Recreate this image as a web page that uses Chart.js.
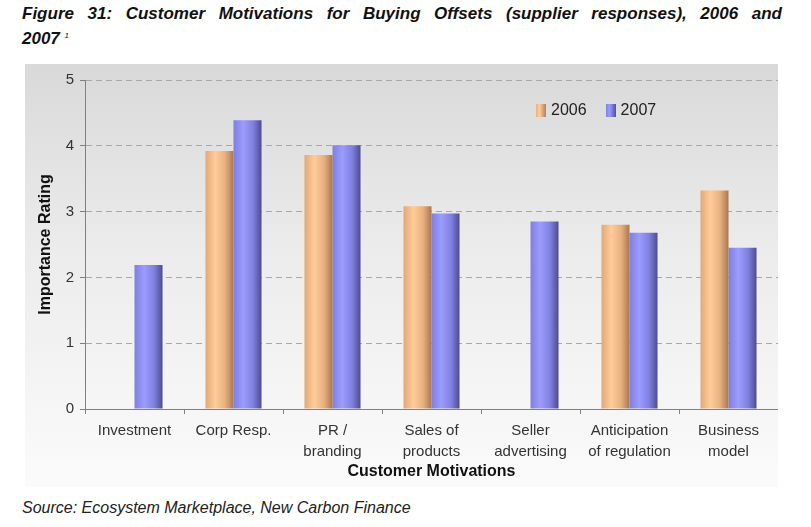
<!DOCTYPE html>
<html>
<head>
<meta charset="utf-8">
<script src="https://cdn.jsdelivr.net/npm/chart.js@4"></script>
<style>
  body { margin: 0; background: #fff; width: 811px; height: 527px; position: relative; overflow: hidden;
         font-family: "Liberation Sans", Arial, sans-serif; }
  #title { position: absolute; left: 22px; top: 3px; width: 760px; font-weight: bold; font-style: italic;
           font-size: 17px; line-height: 22px; color: #111; }
  #title .l1 { text-align: justify; text-align-last: justify; white-space: nowrap; }
  #title sup { font-size: 8px; font-weight: normal; vertical-align: 6px; }
  #frame { position: absolute; left: 25px; top: 64px; width: 753px; height: 423px;
           background: linear-gradient(to bottom, #d9d9d9 0%, #ececec 45%, #fbfbfb 100%); }
  #legend { position: absolute; left: 536px; top: 101px; font-size: 16px; color: #222; line-height: 18px; }
  #legend span.box { display: inline-block; width: 10px; height: 13px; vertical-align: -2px; margin-right: 5px; }
  #legend .item { display: inline-block; margin-right: 19px; }
  #source { position: absolute; left: 22px; top: 499px; font-size: 16px; font-style: italic; color: #222; }
</style>
</head>
<body>
<div id="title"><div class="l1">Figure 31: Customer Motivations for Buying Offsets (supplier responses), 2006 and</div>
<div>2007 <sup>1</sup></div></div>
<div id="frame"><canvas id="chart" width="753" height="423"></canvas></div>
<div id="legend">
  <span class="item"><span class="box" style="background:linear-gradient(to right,#e8b080,#ffcc99 35%,#b08060)"></span>2006</span><span class="item"><span class="box" style="background:linear-gradient(to right,#8080e8,#9999ff 35%,#505098)"></span>2007</span>
</div>
<div id="source">Source: Ecosystem Marketplace, New Carbon Finance</div>
<script>
// data
const categories = [
  "Investment",
  "Corp Resp.",
  ["PR /", "branding"],
  ["Sales of", "products"],
  ["Seller", "advertising"],
  ["Anticipation", "of regulation"],
  ["Business", "model"],
];
const values2006 = [null, 3.92, 3.86, 3.08, null, 2.80, 3.32];
const values2007 = [2.19, 4.39, 4.01, 2.97, 2.85, 2.68, 2.45];
const yTicks = [0, 1, 2, 3, 4, 5];

const CAT_PCT = 0.566;

// cylinder-like shading across each bar
function barFill(stops, plain) {
  return (c) => {
    const chart = c.chart;
    if (!chart.chartArea || !chart.scales.x) return plain;
    const x = chart.scales.x;
    const step = x.width / categories.length;
    const w = (step * CAT_PCT) / 2;
    const cx = x.getPixelForValue(c.dataIndex) + (c.datasetIndex - 0.5) * w;
    const g = chart.ctx.createLinearGradient(cx - w / 2, 0, cx + w / 2, 0);
    stops.forEach(([p, col]) => g.addColorStop(p, col));
    return g;
  };
}

const orange = [[0, "#e2a878"], [0.35, "#ffcc99"], [0.7, "#e8b080"], [1, "#a87850"]];
const blue = [[0, "#7f7fe0"], [0.35, "#9c9cff"], [0.7, "#8080e0"], [1, "#4c4c90"]];

new Chart(document.getElementById("chart"), {
  type: "bar",
  data: {
    labels: categories,
    datasets: [
      { label: "2006", data: values2006, backgroundColor: barFill(orange, "#f0b888") },
      { label: "2007", data: values2007, backgroundColor: barFill(blue, "#8888ee") },
    ],
  },
  options: {
    responsive: false,
    animation: false,
    categoryPercentage: CAT_PCT,
    barPercentage: 1,
    layout: { padding: { top: 16, right: 0, left: 0, bottom: 0 } },
    plugins: { legend: { display: false }, tooltip: { enabled: false } },
    scales: {
      x: {
        afterFit: (s) => { s.height = 78; },
        grid: { drawOnChartArea: false, drawTicks: true, tickLength: 5, tickColor: "#808080", offset: true },
        border: { color: "#808080", width: 1 },
        ticks: {
          color: "#333",
          font: { family: "Liberation Sans", size: 15, lineHeight: 1.4 },
          padding: 6,
          maxRotation: 0,
          autoSkip: false,
        },
        title: {
          display: true,
          text: "Customer Motivations",
          color: "#111",
          font: { family: "Liberation Sans", size: 16, weight: "bold" },
          padding: { top: 0, bottom: 6 },
        },
      },
      y: {
        min: 0,
        max: 5,
        afterFit: (s) => { s.width = 60; },
        afterBuildTicks: (s) => { s.ticks = yTicks.map((v) => ({ value: v })); },
        grid: { color: "#a8a8a8", tickColor: "#808080", tickLength: 5, drawTicks: true },
        border: { color: "#808080", width: 1, dash: [6, 4] },
        ticks: {
          color: "#333",
          font: { family: "Liberation Sans", size: 15 },
          padding: 6,
        },
        title: {
          display: true,
          text: "Importance Rating",
          color: "#111",
          font: { family: "Liberation Sans", size: 16, weight: "bold" },
          padding: { top: 11, bottom: 0 },
        },
      },
    },
  },
});
</script>
</body>
</html>
